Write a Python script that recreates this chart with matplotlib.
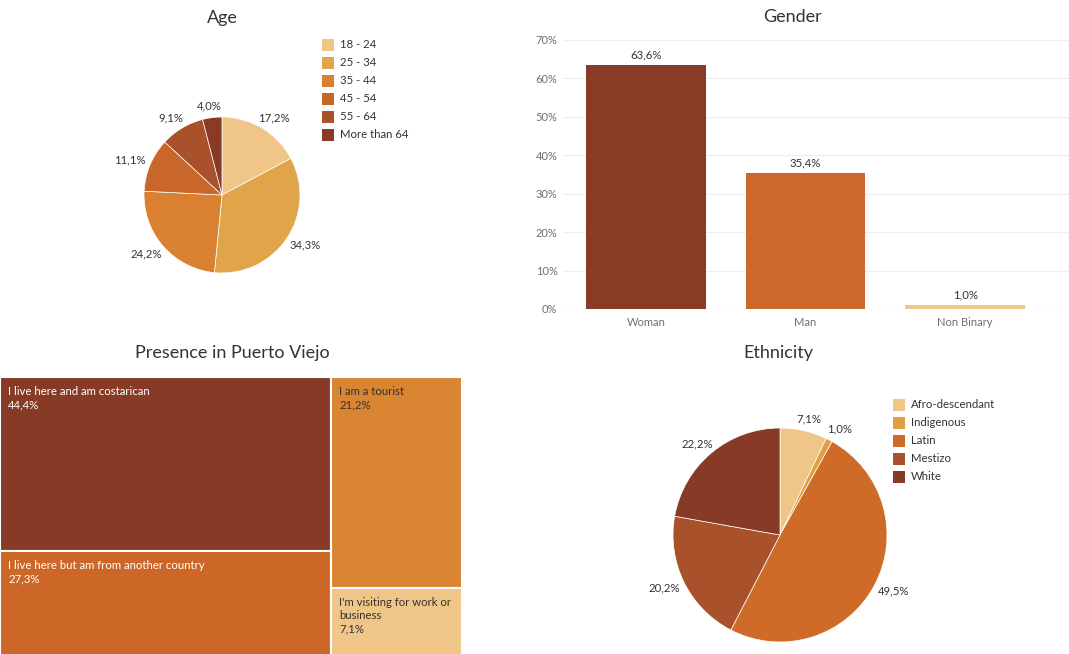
import matplotlib
matplotlib.use("Agg")
import matplotlib.pyplot as plt
from matplotlib.patches import Rectangle
import numpy as np

plt.rcParams['font.family'] = ['Lato', 'DejaVu Sans']

# ---- data ----
age_labels = ["18 - 24", "25 - 34", "35 - 44", "45 - 54", "55 - 64", "More than 64"]
age_values = [17.2, 34.3, 24.2, 11.1, 9.1, 4.0]
age_colors = ["#F0C688", "#E0A54B", "#D98131", "#C9672A", "#A8512A", "#8A3B25"]

gender_labels = ["Woman", "Man", "Non Binary"]
gender_values = [63.6, 35.4, 1.0]
gender_colors = ["#8A3B25", "#CC6829", "#F0C688"]
gender_ticks = [0, 10, 20, 30, 40, 50, 60, 70]

presence_labels = ["I live here and am costarican",
                   "I live here but am from another country",
                   "I am a tourist",
                   "I'm visiting for work or\nbusiness"]
presence_values = [44.4, 27.3, 21.2, 7.1]
presence_colors = ["#873A25", "#CC6727", "#D98532", "#F0C688"]
presence_text = ["white", "white", "#333333", "#333333"]

eth_labels = ["Afro-descendant", "Indigenous", "Latin", "Mestizo", "White"]
eth_values = [7.1, 1.0, 49.5, 20.2, 22.2]
eth_colors = ["#F0C688", "#E0A040", "#CF6B28", "#A8512A", "#873A25"]

W, H = 1069, 654
fig = plt.figure(figsize=(W / 100, H / 100), dpi=100)
fig.patch.set_facecolor("white")

TXT = "#333333"
TITLE_SIZE = 13
LBL_SIZE = 8.2


def px_axes(left, top, width, height):
    return fig.add_axes([left / W, 1 - (top + height) / H, width / W, height / H])


def fmt(v):
    return f"{v:.1f}%".replace(".", ",")


def draw_pie(cx, cy, r, values, colors, gap=7, half_w=15, half_h=5):
    ax = px_axes(cx - r, cy - r, 2 * r, 2 * r)
    ax.pie(values, colors=colors, startangle=90, counterclock=False,
           radius=1, normalize=True,
           wedgeprops=dict(edgecolor="white", linewidth=0.5))
    ax.set_xlim(-1, 1)
    ax.set_ylim(-1, 1)
    ax.set_aspect("auto")
    ax.axis("off")
    total = sum(values)
    cum = 0
    for v in values:
        mid = 90 - (cum + v / 2) / total * 360
        cum += v
        a = np.deg2rad(mid)
        c, s = np.cos(a), np.sin(a)
        # push the label box just outside the rim, measured in pixels
        lx = ((r + gap) * c + c * half_w) / r
        ly = ((r + gap) * s + s * half_h) / r
        ax.text(lx, ly, fmt(v), ha="center", va="center", fontsize=LBL_SIZE,
                color=TXT, clip_on=False)
    return ax


def draw_legend(x, y0, labels, colors, step=18, box=12):
    for i, (lab, col) in enumerate(zip(labels, colors)):
        y = y0 + i * step
        fig.patches.append(Rectangle((x / W, 1 - (y + box / 2) / H), box / W, box / H,
                                     transform=fig.transFigure, facecolor=col,
                                     edgecolor="none"))
        fig.text((x + box + 6) / W, 1 - y / H, lab, ha="left", va="center",
                 fontsize=LBL_SIZE, color=TXT)


# ---- Age ----
fig.text(222 / W, 1 - 18 / H, "Age", ha="center", va="center", fontsize=TITLE_SIZE, color=TXT)
draw_pie(222, 195, 78, age_values, age_colors)
draw_legend(322, 45, age_labels, age_colors)

# ---- Gender ----
fig.text(792 / W, 1 - 17 / H, "Gender", ha="center", va="center", fontsize=TITLE_SIZE, color=TXT)
axg = px_axes(563, 40, W - 563, 269)
x = np.arange(len(gender_labels))
axg.bar(x, gender_values, width=0.75, color=gender_colors, zorder=3)
for xi, v in zip(x, gender_values):
    axg.text(xi, v + 1.2, fmt(v), ha="center", va="bottom", fontsize=LBL_SIZE, color=TXT)
axg.set_ylim(0, 70)
axg.set_xlim(-0.52, 2.65)
axg.set_yticks(gender_ticks)
axg.set_yticklabels([f"{t}%" for t in gender_ticks])
axg.set_xticks(x)
axg.set_xticklabels(gender_labels)
axg.tick_params(axis="both", length=0, labelsize=8, labelcolor="#6E6E6E")
axg.tick_params(axis="y", pad=4)
axg.tick_params(axis="x", pad=6)
axg.grid(axis="y", color="#EEEEEE", linewidth=0.8, zorder=0)
for s in axg.spines.values():
    s.set_visible(False)
axg.axhline(0, color="#E6E6E6", linewidth=0.8, zorder=2)

# ---- Presence in Puerto Viejo (treemap) ----
fig.text(232 / W, 1 - 353 / H, "Presence in Puerto Viejo", ha="center", va="center",
         fontsize=TITLE_SIZE, color=TXT)
axt = px_axes(0, 377, 462, 277)
total = sum(presence_values)
left_w = (presence_values[0] + presence_values[1]) / total
right_w = 1 - left_w
top_h0 = presence_values[0] / (presence_values[0] + presence_values[1])
top_h2 = presence_values[2] / (presence_values[2] + presence_values[3])
rects = [
    (0, 1 - top_h0, left_w, top_h0),
    (0, 0, left_w, 1 - top_h0),
    (left_w, 1 - top_h2, right_w, top_h2),
    (left_w, 0, right_w, 1 - top_h2),
]
full_h = 281
axt.set_xlim(0, 1)
axt.set_ylim(1 - 277 / full_h, 1)
axt.axis("off")
for (rx, ry, rw, rh), lab, v, col, tc in zip(rects, presence_labels, presence_values,
                                            presence_colors, presence_text):
    axt.add_patch(Rectangle((rx, ry), rw, rh, facecolor=col, edgecolor="white", linewidth=1.5))
    tx = rx + 8 / 462
    ty = ry + rh - 9 / full_h
    axt.text(tx, ty, lab + "\n" + fmt(v), ha="left", va="top", fontsize=LBL_SIZE,
             color=tc, linespacing=1.3)

# ---- Ethnicity ----
fig.text(778 / W, 1 - 353 / H, "Ethnicity", ha="center", va="center", fontsize=TITLE_SIZE, color=TXT)
draw_pie(780, 535, 107, eth_values, eth_colors)
draw_legend(893, 405, eth_labels, eth_colors)

fig.savefig("out.png", dpi=100)
